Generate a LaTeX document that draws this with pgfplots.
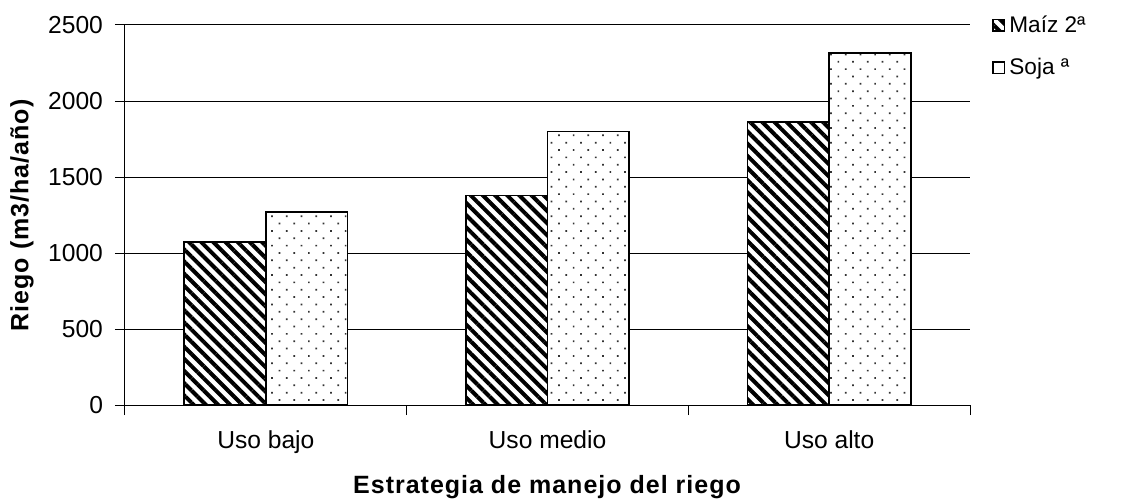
\documentclass[border=0pt]{standalone}
\usepackage{pgfplots}
\pgfplotsset{compat=1.18}
\usepackage{fontspec}
\setmainfont{Liberation Sans}
\usetikzlibrary{patterns.meta}
\begin{document}
\begin{tikzpicture}
\begin{axis}[
    scale only axis,
    width=422.5pt, height=190pt,
    ybar=0pt,
    bar width=0.29,
    xmin=-0.5, xmax=2.5,
    ymin=0, ymax=2500,
    ytick={0,500,...,2500},
    xtick={-0.5,0.5,1.5,2.5},
    xticklabels={},
    extra x ticks={0,1,2},
    extra x tick labels={Uso bajo, Uso medio, Uso alto},
    extra x tick style={major tick length=0pt,
      tick label style={anchor=base, yshift=-21.5pt}},
    axis x line*=bottom,
    axis y line*=left,
    tick align=outside,
    major tick length=5pt,
    ymajorgrids,
    grid style={black, line width=0.5pt},
    axis line style={black, line width=0.5pt},
    tick style={black, line width=0.5pt},
    tick label style={font=\fontsize{12.3}{14}\selectfont},
    yticklabel style={xshift=-2.5pt},
    /pgf/number format/assume math mode=true,
    /pgf/number format/1000 sep={},
    ylabel={\textbf{Riego (m3/ha/año)}},
    xlabel={\textbf{Estrategia de manejo del riego}},
    label style={font=\fontsize{12.5}{14}\selectfont\addfontfeature{LetterSpace=4}},
    ylabel style={at={(axis description cs:-0.122,0.5)}, anchor=center, rotate=0},
    xlabel style={at={(axis description cs:0.5,-0.2158)}, anchor=center},
    legend style={at={(1,1)}, anchor=north west, xshift=11pt, yshift=7pt,
      draw=none, fill=none,
      font=\fontsize{11.3}{13}\selectfont, row sep=7.5pt, inner sep=0pt},
    legend cell align=left,
    legend image code/.code={\draw[#1, line width=0.7pt] (0pt,-2.9pt) rectangle (5.8pt,2.9pt);},
]
\addplot[draw=black, line width=0.9pt, fill=white,
  postaction={pattern={Lines[angle=-45, distance=4.3pt, line width=2pt]}, pattern color=black}]
  coordinates {(0,1075) (1,1378) (2,1862)};
\addplot[draw=black, line width=0.9pt, fill=white,
  postaction={pattern={Dots[angle=45, distance=5.2pt, radius=0.6pt]}, pattern color=black!80}]
  coordinates {(0,1270) (1,1800) (2,2316)};
\legend{Maíz 2ª, Soja ª}
\end{axis}
\pgfresetboundingbox
\path ([shift={(-62.5pt,-49pt)}]current axis.south west) rectangle ([shift={(76pt,12.5pt)}]current axis.north east);
\end{tikzpicture}
\end{document}
